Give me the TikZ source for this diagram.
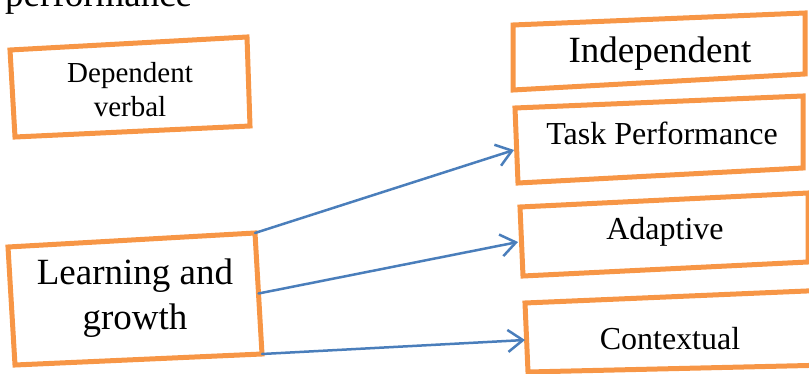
\documentclass[tikz,border=0pt]{standalone}
\usepackage{fontspec}
\setmainfont{Liberation Serif}
\usetikzlibrary{arrows.meta, positioning, calc}
\definecolor{box_orange}{HTML}{F79646}
\definecolor{arrow_blue}{HTML}{4A7EBB}
\tikzset{
	box/.style={draw=box_orange, line width=5pt, line join=miter},
	label/.style={anchor=base, align=center, inner sep=0pt},
	link/.style={draw=arrow_blue, line width=2.5pt, -{Straight Barb[length=15pt,width=22pt,line width=2.5pt]}},
}

\begin{document}
\begin{tikzpicture}[x=1pt,y=-1pt,line cap=round]
		\useasboundingbox (0,0) rectangle (809,374);
		\clip (0,0) rectangle (809,374);
		% heading left over from the page above
		\node[anchor=base west, inner sep=0pt, font=\fontsize{37}{44}\selectfont] (head) at (5,7) {performance};
		% box corners
		\coordinate (dep-tl) at (10,50);   \coordinate (dep-tr) at (247,37);
		\coordinate (dep-br) at (250,126); \coordinate (dep-bl) at (15,137);
		\coordinate (ind-tl) at (513,25);  \coordinate (ind-tr) at (805,13);
		\coordinate (ind-br) at (805,74);  \coordinate (ind-bl) at (513,90);
		\coordinate (task-tl) at (515,108); \coordinate (task-tr) at (803,96);
		\coordinate (task-br) at (803,168); \coordinate (task-bl) at (518,183);
		\coordinate (adapt-tl) at (520,207); \coordinate (adapt-tr) at (808,193);
		\coordinate (adapt-br) at (808,262); \coordinate (adapt-bl) at (523,276);
		\coordinate (ctx-tl) at (525,303); \coordinate (ctx-tr) at (830,290);
		\coordinate (ctx-br) at (830,365); \coordinate (ctx-bl) at (528,372);
		\coordinate (learn-tl) at (8,247);   \coordinate (learn-tr) at (255,233);
		\coordinate (learn-br) at (262,354); \coordinate (learn-bl) at (15,365);
		\coordinate (learn-r) at ($(learn-tr)!0.5!(learn-br)$);
		\foreach \b in {dep,ind,task,adapt,ctx,learn}
			\draw[box] (\b-tl) -- (\b-tr) -- (\b-br) -- (\b-bl) -- cycle;
		% texts (two-line labels sit on their last baseline)
		\node[label, font=\fontsize{29}{34}\selectfont] (dep) at (130,117) {Dependent\\verbal};
		\node[label, font=\fontsize{37}{44}\selectfont] (ind) at (660,63) {Independent};
		\node[label, font=\fontsize{32}{38}\selectfont] (task) at (662,145) {Task Performance};
		\node[label, font=\fontsize{32}{38}\selectfont] (adapt) at (665,240) {Adaptive};
		\node[label, font=\fontsize{32}{38}\selectfont] (ctx) at (670,349) {Contextual};
		\node[label, font=\fontsize{37}{45}\selectfont] (learn) at (135,330) {Learning and\\growth};
		% arrow ends on the left sides
		\coordinate (task-in) at (514,150);
		\coordinate (adapt-in) at (518,242);
		\coordinate (ctx-in) at (525,340);
		\draw[link] (learn-tr) -- (task-in);
		\draw[link] (learn-r) -- (adapt-in);
		\draw[link] (learn-br) -- (ctx-in);
	\end{tikzpicture}
\end{document}
